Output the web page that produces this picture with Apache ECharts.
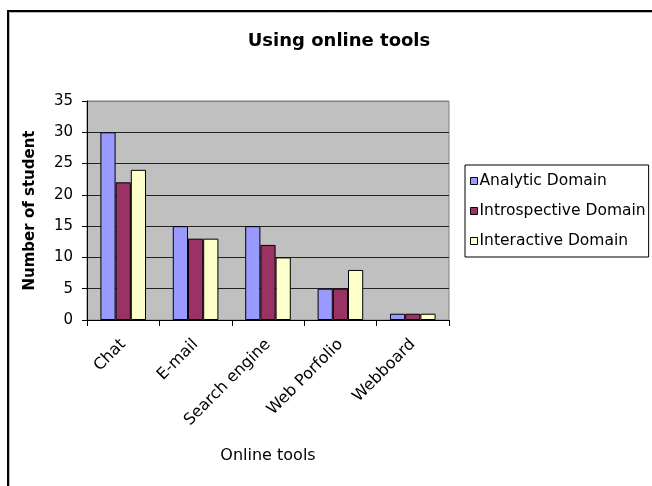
<!DOCTYPE html>
<html>
<head>
<meta charset="utf-8">
<script src="https://cdn.jsdelivr.net/npm/echarts@6/dist/echarts.min.js"></script>
<style>
html,body{margin:0;padding:0;background:#fff;}
#chart{width:652px;height:486px;}
</style>
</head>
<body>
<div id="chart"></div>
<script>
var categories = ['Chat', 'E-mail', 'Search engine', 'Web Porfolio', 'Webboard'];
var analytic = [30, 15, 15, 5, 1];
var introspective = [22, 13, 12, 5, 1];
var interactive = [24, 13, 10, 8, 1];
var seriesNames = ['Analytic Domain', 'Introspective Domain', 'Interactive Domain'];
var yTicks = [0, 5, 10, 15, 20, 25, 30, 35];

var FONT = 'DejaVu Sans';
var chart = echarts.init(document.getElementById('chart'), null, {renderer: 'canvas'});
var colors = ['#9999FF', '#993366', '#FFFFCC'];
var data = [analytic, introspective, interactive];

chart.setOption({
  animation: false,
  title: {
    text: 'Using online tools',
    left: 334, top: 27, textAlign: 'center',
    textStyle: {fontFamily: FONT, fontSize: 18, fontWeight: 'bold', color: '#000'}
  },
  legend: {
    orient: 'vertical',
    left: 465, top: 165,
    padding: [8, 3, 8, 5],
    itemGap: 14,
    itemWidth: 7, itemHeight: 7,
    borderColor: '#000', borderWidth: 1,
    icon: 'rect',
    data: seriesNames,
    textStyle: {fontFamily: FONT, fontSize: 15.5, color: '#000', padding: [0, 0, 0, -3]},
    itemStyle: {borderColor: '#000', borderWidth: 1}
  },
  grid: {
    left: 87, right: 203, top: 101, bottom: 166,
    show: true, backgroundColor: '#C0C0C0', borderColor: '#808080', borderWidth: 1
  },
  xAxis: {
    type: 'category',
    data: categories,
    name: 'Online tools',
    nameLocation: 'middle',
    nameGap: 128,
    nameTextStyle: {fontFamily: FONT, fontSize: 16, color: '#000'},
    axisLine: {lineStyle: {color: '#000', width: 1}},
    axisTick: {show: true, length: 6, inside: false, lineStyle: {color: '#000'}},
    axisLabel: {rotate: 45, margin: 22, interval: 0, fontFamily: FONT, fontSize: 16, color: '#000'}
  },
  yAxis: {
    type: 'value',
    min: 0, max: 35, interval: 5,
    name: 'Number of student',
    nameLocation: 'middle',
    nameGap: 49,
    nameRotate: 90,
    nameTextStyle: {fontFamily: FONT, fontSize: 15, fontWeight: 'bold', color: '#000'},
    axisLine: {show: true, lineStyle: {color: '#000', width: 1}},
    axisTick: {show: true, length: 5, lineStyle: {color: '#000'}},
    axisLabel: {margin: 14, fontFamily: FONT, fontSize: 15, color: '#000',
      formatter: function (v) { return yTicks.indexOf(v) >= 0 ? String(v) : ''; }},
    splitLine: {show: true, lineStyle: {color: ['#000','#222','#222','#222','#222','#222','#222','#808080'], width: 1}}
  },
  series: seriesNames.map(function (n, i) {
    return {
      name: n, type: 'bar', data: data[i],
      barGap: '0%', barCategoryGap: '37%',
      itemStyle: {color: colors[i], borderColor: '#000', borderWidth: 1}
    };
  }),
  graphic: [
    {type: 'rect', silent: true, z: 100, shape: {x: 8, y: 11, width: 700, height: 600},
      style: {fill: 'none', stroke: '#000', lineWidth: 2}},
    {type: 'rect', silent: true, z: 100, shape: {x: 9.5, y: 12.5, width: 700, height: 600},
      style: {fill: 'none', stroke: '#bbb', lineWidth: 1}}
  ]
});
</script>
</body>
</html>
